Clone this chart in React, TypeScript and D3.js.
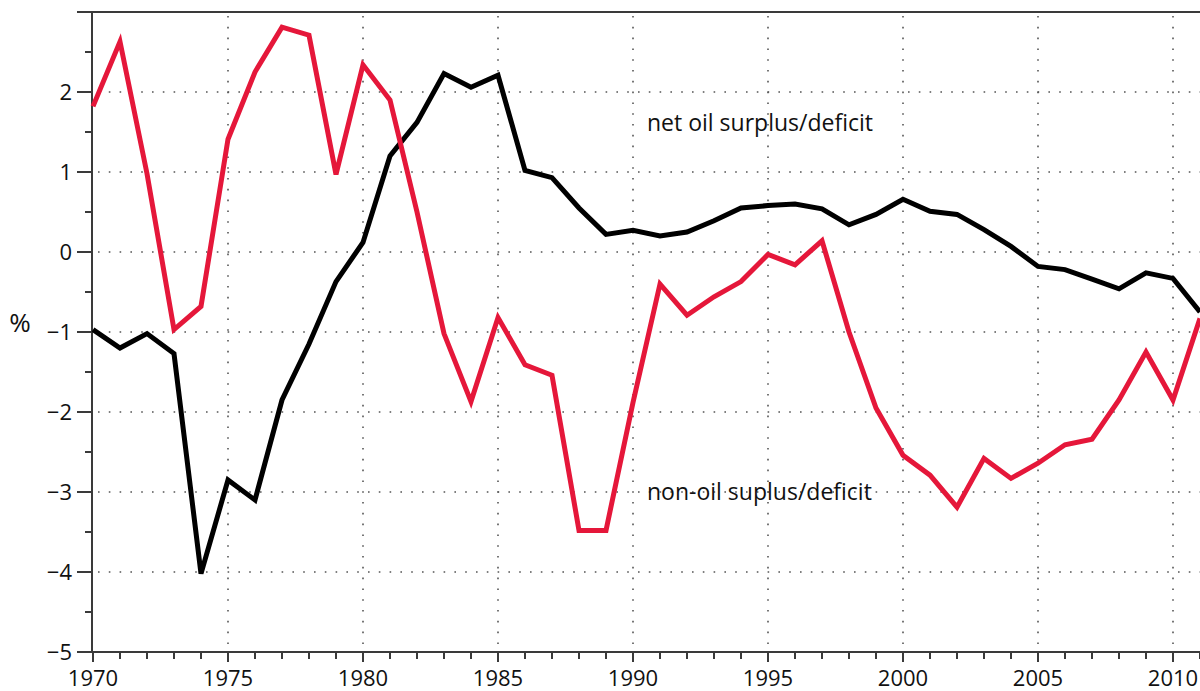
import * as d3 from 'd3';
import React, { useRef, useEffect } from 'react';

const years = d3.range(1970, 2012);

// net oil surplus/deficit, % of GDP
const netOil = [
  -0.97, -1.2, -1.02, -1.27, -4.02, -2.85, -3.1, -1.85, -1.15, -0.37,
  0.12, 1.2, 1.62, 2.23, 2.06, 2.21, 1.02, 0.93, 0.55, 0.22,
  0.27, 0.2, 0.25, 0.39, 0.55, 0.58, 0.6, 0.54, 0.34, 0.47,
  0.66, 0.51, 0.47, 0.28, 0.07, -0.18, -0.22, -0.34, -0.46, -0.26,
  -0.33, -0.75,
];

// non-oil suplus/deficit, % of GDP
const nonOil = [
  1.82, 2.63, 0.98, -0.97, -0.68, 1.41, 2.25, 2.81, 2.71, 0.97,
  2.34, 1.9, 0.5, -1.02, -1.87, -0.82, -1.41, -1.54, -3.48, -3.48,
  -1.88, -0.4, -0.79, -0.56, -0.37, -0.03, -0.16, 0.14, -1.0, -1.95,
  -2.54, -2.79, -3.19, -2.58, -2.83, -2.64, -2.41, -2.34, -1.85, -1.25,
  -1.85, -0.83,
];

const yTicks = [-5, -4, -3, -2, -1, 0, 1, 2, 3];
const xTicks = [1970, 1975, 1980, 1985, 1990, 1995, 2000, 2005, 2010];

const labels = {
  netOil: 'net oil surplus/deficit',
  nonOil: 'non-oil suplus/deficit',
  yUnit: '%',
};

function Chart({ width, height }) {
  const ref = useRef();

  useEffect(() => {
    const svg = d3.select(ref.current);
    svg.selectAll('*').remove();
    draw(svg);
  }, []);

  const draw = (svg) => {
    const font = '"Open Sans", Lato, sans-serif';
    const axisColor = '#3a3a3a';

    const x = d3.scaleLinear().domain([1970, 2011]).range([93, 1200]);
    const y = d3.scaleLinear().domain([-5, 3]).range([652, 12]);

    // dotted grid
    const grid = svg.append('g').attr('stroke', '#555').attr('stroke-width', 1.6)
      .attr('stroke-dasharray', '1.6 9.2');
    grid.selectAll('.hg')
      .data(yTicks.filter(d => d > -5 && d < 3))
      .enter().append('line')
      .attr('x1', x(1970) + 5).attr('x2', width)
      .attr('y1', d => y(d)).attr('y2', d => y(d));
    grid.selectAll('.vg')
      .data(xTicks.filter(d => d > 1970))
      .enter().append('line')
      .attr('x1', d => x(d)).attr('x2', d => x(d))
      .attr('y1', y(3) + 4).attr('y2', y(-5));

    // left axis
    const left = svg.append('g').attr('stroke', axisColor).attr('stroke-width', 2);
    left.append('line').attr('x1', x(1970) - 1).attr('x2', x(1970) - 1)
      .attr('y1', y(3)).attr('y2', y(-5));
    left.selectAll('.maj').data(yTicks).enter().append('line')
      .attr('x1', x(1970) - 16).attr('x2', x(1970) - 1)
      .attr('y1', d => y(d)).attr('y2', d => y(d));
    left.selectAll('.min').data(d3.range(-4.5, 3, 1)).enter().append('line')
      .attr('x1', x(1970) - 8).attr('x2', x(1970) - 1)
      .attr('y1', d => y(d)).attr('y2', d => y(d));

    // top frame + bottom axis
    svg.append('line').attr('stroke', axisColor).attr('stroke-width', 2)
      .attr('x1', x(1970) - 16).attr('x2', width).attr('y1', y(3)).attr('y2', y(3));
    const bottom = svg.append('g').attr('stroke', axisColor).attr('stroke-width', 2);
    bottom.append('line').attr('x1', x(1970) - 16).attr('x2', width)
      .attr('y1', y(-5)).attr('y2', y(-5));
    bottom.selectAll('.tk').data(years).enter().append('line')
      .attr('x1', d => x(d)).attr('x2', d => x(d))
      .attr('y1', y(-5))
      .attr('y2', d => y(-5) + (d % 5 === 0 ? 10 : 7));

    // tick labels
    const fmt = d3.format('d');
    svg.append('g').selectAll('text')
      .data(yTicks.filter(d => d < 3))
      .enter().append('text')
      .attr('x', 72).attr('y', d => y(d))
      .attr('dy', '0.36em')
      .attr('text-anchor', 'end')
      .attr('font-family', font).attr('font-size', 22).attr('fill', '#111')
      .text(d => fmt(d));
    svg.append('g').selectAll('text')
      .data(xTicks)
      .enter().append('text')
      .attr('x', d => x(d)).attr('y', 686)
      .attr('text-anchor', 'middle')
      .attr('font-family', font).attr('font-size', 22).attr('fill', '#111')
      .text(d => d);

    svg.append('text')
      .attr('x', 20).attr('y', 332)
      .attr('text-anchor', 'middle')
      .attr('font-family', font).attr('font-size', 26).attr('fill', '#111')
      .text(labels.yUnit);

    // lines
    const line = d3.line().x(d => x(d[0])).y(d => y(d[1]));
    svg.append('path')
      .datum(years.map((yr, i) => [yr, netOil[i]]))
      .attr('d', line)
      .attr('fill', 'none').attr('stroke', '#000').attr('stroke-width', 5)
      .attr('stroke-linejoin', 'miter');
    svg.append('path')
      .datum(years.map((yr, i) => [yr, nonOil[i]]))
      .attr('d', line)
      .attr('fill', 'none').attr('stroke', '#e5173a').attr('stroke-width', 5)
      .attr('stroke-linejoin', 'miter');

    // series labels
    svg.append('text')
      .attr('x', 647).attr('y', 131)
      .attr('font-family', font).attr('font-size', 23).attr('fill', '#111')
      .text(labels.netOil);
    svg.append('text')
      .attr('x', 647).attr('y', 500)
      .attr('font-family', font).attr('font-size', 23).attr('fill', '#111')
      .text(labels.nonOil);
  };

  return (
    <svg ref={ref} width={width} height={height}
      style={{ position: 'absolute', left: 0, top: 0, background: '#fff' }}>
    </svg>
  );
}

export default function App() {
  return <Chart width={1200} height={691} />;
}
